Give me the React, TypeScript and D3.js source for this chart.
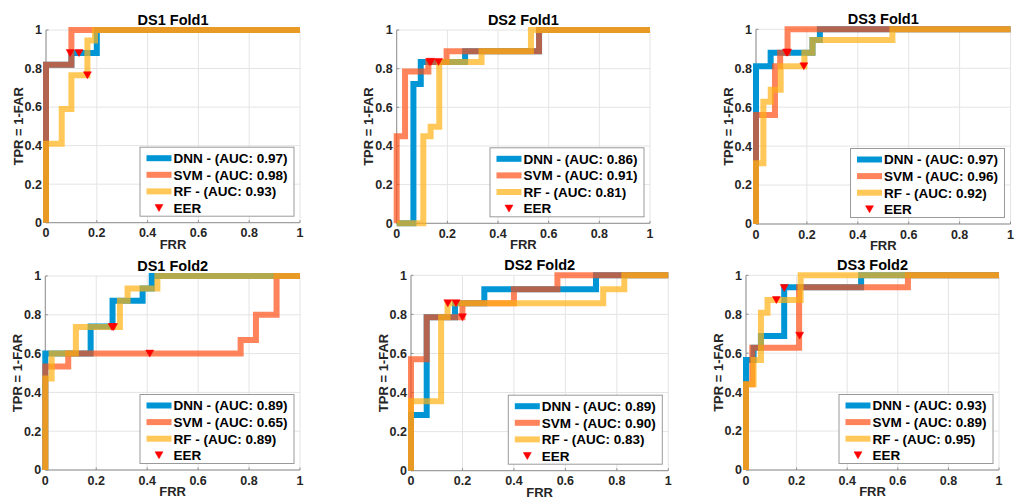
import React from "react";
import * as d3 from "d3";

type Pt = [number, number];

// ---- chart content ----
const panelTitles = ["DS1 Fold1", "DS2 Fold1", "DS3 Fold1", "DS1 Fold2", "DS2 Fold2", "DS3 Fold2"];
const seriesNames = ["DNN", "SVM", "RF"];
const aucDnn = [0.97, 0.86, 0.97, 0.89, 0.89, 0.93];
const aucSvm = [0.98, 0.91, 0.96, 0.65, 0.9, 0.89];
const aucRf = [0.93, 0.81, 0.92, 0.89, 0.83, 0.95];
const tickValues = [0, 0.2, 0.4, 0.6, 0.8, 1];
const tickLabels = ["0", "0.2", "0.4", "0.6", "0.8", "1"];

// ROC step curves, vertices as [FRR, TPR]
const ds1Fold1Dnn: Pt[] = [[0, 0], [0, 0.82], [0.1, 0.82], [0.1, 0.88], [0.2, 0.88], [0.2, 1], [1, 1]];
const ds1Fold1Svm: Pt[] = [[0, 0], [0, 0.82], [0.1, 0.82], [0.1, 1], [1, 1]];
const ds1Fold1Rf: Pt[] = [[0, 0], [0, 0.41], [0.062, 0.41], [0.062, 0.59], [0.1, 0.59], [0.1, 0.765], [0.163, 0.765], [0.163, 0.945], [0.193, 0.945], [0.193, 1], [1, 1]];
const ds1Fold1Eer: Pt[] = [[0.095, 0.88], [0.13, 0.88], [0.163, 0.765]];

const ds2Fold1Dnn: Pt[] = [[0, 0], [0.066, 0], [0.066, 0.72], [0.095, 0.72], [0.095, 0.835], [0.27, 0.835], [0.27, 0.89], [0.562, 0.89], [0.562, 1], [1, 1]];
const ds2Fold1Svm: Pt[] = [[0, 0], [0, 0.45], [0.033, 0.45], [0.033, 0.785], [0.125, 0.785], [0.125, 0.835], [0.197, 0.835], [0.197, 0.89], [0.562, 0.89], [0.562, 1], [1, 1]];
const ds2Fold1Rf: Pt[] = [[0, 0], [0.105, 0], [0.105, 0.45], [0.134, 0.45], [0.134, 0.5], [0.168, 0.5], [0.168, 0.835], [0.335, 0.835], [0.335, 0.89], [0.53, 0.89], [0.53, 1], [1, 1]];
const ds2Fold1Eer: Pt[] = [[0.13, 0.835], [0.135, 0.835], [0.165, 0.835]];

const ds3Fold1Dnn: Pt[] = [[0, 0], [0, 0.81], [0.0575, 0.81], [0.0575, 0.88], [0.222, 0.88], [0.222, 0.945], [0.251, 0.945], [0.251, 1], [1, 1]];
const ds3Fold1Svm: Pt[] = [[0, 0], [0, 0.56], [0.0745, 0.56], [0.0745, 0.81], [0.095, 0.81], [0.095, 0.88], [0.124, 0.88], [0.124, 1], [1, 1]];
const ds3Fold1Rf: Pt[] = [[0, 0], [0, 0.312], [0.029, 0.312], [0.029, 0.628], [0.058, 0.628], [0.058, 0.69], [0.097, 0.69], [0.097, 0.81], [0.19, 0.81], [0.19, 0.88], [0.222, 0.88], [0.222, 0.945], [0.536, 0.945], [0.536, 1], [1, 1]];
const ds3Fold1Eer: Pt[] = [[0.12, 0.88], [0.124, 0.88], [0.188, 0.81]];

const ds1Fold2Dnn: Pt[] = [[0, 0], [0, 0.6], [0.178, 0.6], [0.178, 0.74], [0.264, 0.74], [0.264, 0.873], [0.382, 0.873], [0.382, 0.936], [0.418, 0.936], [0.418, 1], [1, 1]];
const ds1Fold2Svm: Pt[] = [[0, 0], [0, 0.533], [0.09, 0.533], [0.09, 0.6], [0.767, 0.6], [0.767, 0.67], [0.827, 0.67], [0.827, 0.8], [0.908, 0.8], [0.908, 1], [1, 1]];
const ds1Fold2Rf: Pt[] = [[0, 0], [0, 0.472], [0.025, 0.472], [0.025, 0.6], [0.12, 0.6], [0.12, 0.737], [0.293, 0.737], [0.293, 0.873], [0.323, 0.873], [0.323, 0.936], [0.44, 0.936], [0.44, 1], [1, 1]];
const ds1Fold2Eer: Pt[] = [[0.262, 0.737], [0.268, 0.737], [0.41, 0.6]];

const ds2Fold2Dnn: Pt[] = [[0, 0], [0, 0.285], [0.061, 0.285], [0.061, 0.785], [0.171, 0.785], [0.171, 0.857], [0.285, 0.857], [0.285, 0.928], [0.719, 0.928], [0.719, 1], [1, 1]];
const ds2Fold2Svm: Pt[] = [[0, 0], [0, 0.57], [0.061, 0.57], [0.061, 0.785], [0.2, 0.785], [0.2, 0.857], [0.4, 0.857], [0.4, 0.928], [0.569, 0.928], [0.569, 1], [1, 1]];
const ds2Fold2Rf: Pt[] = [[0, 0], [0, 0.355], [0.117, 0.355], [0.117, 0.785], [0.142, 0.785], [0.142, 0.857], [0.747, 0.857], [0.747, 0.928], [0.829, 0.928], [0.829, 1], [1, 1]];
const ds2Fold2Eer: Pt[] = [[0.143, 0.857], [0.175, 0.857], [0.2, 0.785]];

const ds3Fold2Dnn: Pt[] = [[0, 0], [0, 0.565], [0.03, 0.565], [0.03, 0.628], [0.059, 0.628], [0.059, 0.688], [0.151, 0.688], [0.151, 0.938], [0.455, 0.938], [0.455, 1], [1, 1]];
const ds3Fold2Svm: Pt[] = [[0, 0], [0, 0.44], [0.025, 0.44], [0.025, 0.628], [0.21, 0.628], [0.21, 0.938], [0.64, 0.938], [0.64, 1], [1, 1]];
const ds3Fold2Rf: Pt[] = [[0, 0], [0, 0.44], [0.03, 0.44], [0.03, 0.565], [0.059, 0.565], [0.059, 0.808], [0.085, 0.808], [0.085, 0.873], [0.216, 0.873], [0.216, 1], [1, 1]];
const ds3Fold2Eer: Pt[] = [[0.12, 0.873], [0.151, 0.935], [0.212, 0.69]];

const panelCurves: Pt[][][] = [
  [ds1Fold1Dnn, ds1Fold1Svm, ds1Fold1Rf],
  [ds2Fold1Dnn, ds2Fold1Svm, ds2Fold1Rf],
  [ds3Fold1Dnn, ds3Fold1Svm, ds3Fold1Rf],
  [ds1Fold2Dnn, ds1Fold2Svm, ds1Fold2Rf],
  [ds2Fold2Dnn, ds2Fold2Svm, ds2Fold2Rf],
  [ds3Fold2Dnn, ds3Fold2Svm, ds3Fold2Rf],
];
const panelEer: Pt[][] = [ds1Fold1Eer, ds2Fold1Eer, ds3Fold1Eer, ds1Fold2Eer, ds2Fold2Eer, ds3Fold2Eer];
const panelAuc: number[][] = panelTitles.map((_, i) => [aucDnn[i], aucSvm[i], aucRf[i]]);

// ---- layout & styling ----
const W = 1019;
const H = 500;
const frames = [
  { left: 46, right: 300, top: 30, bottom: 222.7 },
  { left: 396.7, right: 650, top: 30, bottom: 223.3 },
  { left: 756, right: 1010.5, top: 29.3, bottom: 224 },
  { left: 45.3, right: 300, top: 276, bottom: 470 },
  { left: 411, right: 668.3, top: 275.3, bottom: 470.7 },
  { left: 746, right: 999, top: 275.3, bottom: 470 },
];
const seriesStyle = [
  { color: "rgb(0,150,214)", opacity: 1 },
  { color: "rgb(255,78,22)", opacity: 0.7 },
  { color: "rgb(255,176,19)", opacity: 0.7 },
];
const FONT = "'Liberation Sans', Arial, Helvetica, sans-serif";
const LINE_W = 6;
const AXIS_COLOR = "#8f8f8f";
const GRID_COLOR = "#e4e4e4";
const TEXT_COLOR = "#262626";

function triangle(x: number, y: number, w = 8, h = 7) {
  return `M${x - w / 2},${y - h / 2}L${x + w / 2},${y - h / 2}L${x},${y + h / 2}Z`;
}

function Panel({ idx }: { idx: number }) {
  const f = frames[idx];
  const x = d3.scaleLinear().domain([0, 1]).range([f.left, f.right]);
  const y = d3.scaleLinear().domain([0, 1]).range([f.bottom, f.top]);
  const line = d3
    .line<Pt>()
    .x((d) => x(d[0]))
    .y((d) => y(d[1]));
  const cx = (f.left + f.right) / 2;
  const cy = (f.top + f.bottom) / 2;

  const legW = 154;
  const legH = 69;
  const legR = f.right - 6;
  const legB = f.bottom - 6.5;
  const legL = legR - legW;
  const legT = legB - legH;
  const rowY = (r: number) => legT + 11 + r * 16.6;
  const legendLabels = seriesNames.map(
    (n, s) => `${n} - (AUC: ${panelAuc[idx][s].toFixed(2)})`
  );

  return (
    <g>
      {/* grid */}
      {tickValues.map((t) => (
        <line key={"gx" + t} x1={x(t)} x2={x(t)} y1={f.top} y2={f.bottom} stroke={GRID_COLOR} strokeWidth={1} />
      ))}
      {tickValues.map((t) => (
        <line key={"gy" + t} x1={f.left} x2={f.right} y1={y(t)} y2={y(t)} stroke={GRID_COLOR} strokeWidth={1} />
      ))}
      {/* axes */}
      <line x1={f.left} x2={f.right} y1={f.bottom} y2={f.bottom} stroke={AXIS_COLOR} strokeWidth={1} />
      <line x1={f.left} x2={f.left} y1={f.top} y2={f.bottom} stroke={AXIS_COLOR} strokeWidth={1} />
      {tickValues.map((t) => (
        <line key={"tx" + t} x1={x(t)} x2={x(t)} y1={f.bottom} y2={f.bottom - 2.5} stroke={AXIS_COLOR} strokeWidth={1} />
      ))}
      {tickValues.map((t) => (
        <line key={"ty" + t} x1={f.left} x2={f.left + 2.5} y1={y(t)} y2={y(t)} stroke={AXIS_COLOR} strokeWidth={1} />
      ))}
      {/* tick labels */}
      {tickValues.map((t, i) => (
        <text key={"lx" + t} x={x(t)} y={f.bottom + 14.5} textAnchor="middle" fontSize={12.5} fontWeight="bold" fill={TEXT_COLOR} fontFamily={FONT}>
          {tickLabels[i]}
        </text>
      ))}
      {tickValues.map((t, i) => (
        <text key={"ly" + t} x={f.left - 4} y={y(t) + 4.4} textAnchor="end" fontSize={12.5} fontWeight="bold" fill={TEXT_COLOR} fontFamily={FONT}>
          {tickLabels[i]}
        </text>
      ))}
      {/* curves */}
      {panelCurves[idx].map((pts, s) => (
        <path
          key={"c" + s}
          d={line(pts) || ""}
          fill="none"
          stroke={seriesStyle[s].color}
          strokeOpacity={seriesStyle[s].opacity}
          strokeWidth={LINE_W}
          strokeLinejoin="miter"
          strokeLinecap="butt"
        />
      ))}
      {/* EER markers */}
      {panelEer[idx].map((p, k) => (
        <path key={"e" + k} d={triangle(x(p[0]), y(p[1]))} fill="#ff0000" stroke="#ff0000" strokeWidth={0.5} />
      ))}
      {/* titles */}
      <text x={cx} y={f.top - 5} textAnchor="middle" fontSize={14.5} fontWeight="bold" fill="#000" fontFamily={FONT}>
        {panelTitles[idx]}
      </text>
      <text x={cx} y={f.bottom + 26} textAnchor="middle" fontSize={13} fontWeight="bold" fill={TEXT_COLOR} fontFamily={FONT}>
        FRR
      </text>
      <text
        transform={`translate(${f.left - 23.5},${cy}) rotate(-90)`}
        textAnchor="middle"
        fontSize={13}
        fontWeight="bold"
        fill={TEXT_COLOR}
        fontFamily={FONT}
      >
        TPR = 1-FAR
      </text>
      {/* legend */}
      <rect x={legL} y={legT} width={legW} height={legH} fill="#fff" stroke="#9a9a9a" strokeWidth={1} />
      {legendLabels.map((lab, s) => (
        <g key={"lg" + s}>
          <line
            x1={legL + 6.5}
            x2={legL + 31.5}
            y1={rowY(s)}
            y2={rowY(s)}
            stroke={seriesStyle[s].color}
            strokeOpacity={seriesStyle[s].opacity}
            strokeWidth={LINE_W}
          />
          <text x={legL + 33.5} y={rowY(s) + 4.8} fontSize={13.5} fontWeight="bold" fill="#000" fontFamily={FONT}>
            {lab}
          </text>
        </g>
      ))}
      <path d={triangle(legL + 19, rowY(3))} fill="#ff0000" stroke="#ff0000" strokeWidth={0.5} />
      <text x={legL + 33.5} y={rowY(3) + 4.8} fontSize={13.5} fontWeight="bold" fill="#000" fontFamily={FONT}>
        EER
      </text>
    </g>
  );
}

export default function App() {
  return (
    <svg width={W} height={H} style={{ position: "absolute", left: 0, top: 0, background: "#fff" }}>
      <rect x={0} y={0} width={W} height={H} fill="#fff" />
      {panelTitles.map((_, i) => (
        <Panel key={i} idx={i} />
      ))}
    </svg>
  );
}
